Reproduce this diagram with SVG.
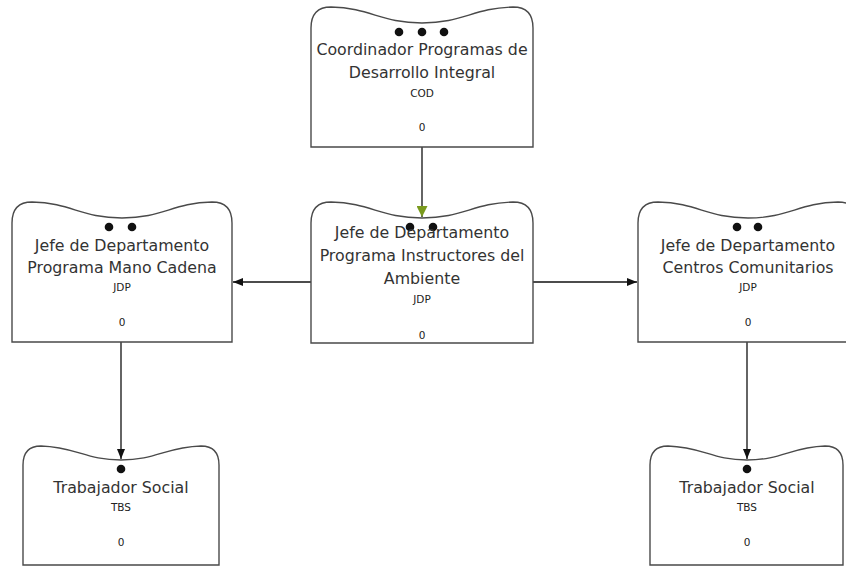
<svg xmlns="http://www.w3.org/2000/svg" width="846" height="568" viewBox="0 0 846 568">
  <style>
    .card { fill: #ffffff; stroke: #4a4a4a; stroke-width: 1.4; }
    .title { font-family: "DejaVu Sans", "Liberation Sans", sans-serif; font-size: 15.8px; fill: #333333; text-anchor: middle; }
    .code { font-family: "DejaVu Sans", "Liberation Sans", sans-serif; font-size: 10.5px; fill: #222222; text-anchor: middle; }
    .dot { fill: #111111; }
    .link { fill: none; stroke: #111111; stroke-width: 1.3; }
  </style>
  <defs>
    <marker id="arrow" markerWidth="10" markerHeight="8" refX="10" refY="4" orient="auto" markerUnits="userSpaceOnUse">
      <path d="M0,0 L10,4 L0,8 Z" fill="#111111"/>
    </marker>
    <marker id="arrowGreen" markerWidth="14" markerHeight="11" refX="11" refY="5.5" orient="auto" markerUnits="userSpaceOnUse">
      <path d="M0,0 L11,5.5 L0,11 Z" fill="#7a9a1e"/>
    </marker>
  </defs>

  <!-- connectors -->
  <g id="connectors">
    <line class="link" x1="422" y1="147" x2="422" y2="217" stroke="#3d4a1c" marker-end="url(#arrowGreen)"/>
    <line class="link" x1="311" y1="282" x2="233" y2="282" marker-end="url(#arrow)"/>
    <line class="link" x1="533" y1="282" x2="637" y2="282" marker-end="url(#arrow)"/>
    <line class="link" x1="121" y1="342" x2="121" y2="459" marker-end="url(#arrow)"/>
    <line class="link" x1="747" y1="342" x2="747" y2="459" marker-end="url(#arrow)"/>
  </g>

  <!-- Coordinador -->
  <g id="node-cod">
    <path class="card" d="M311,147 L311,28 Q311,7 331,7 C371,8 381,23 422,23 C463,23 473,8 513,7 Q533,7 533,28 L533,147 Z"/>
    <circle class="dot" cx="399" cy="32" r="4.3"/>
    <circle class="dot" cx="422" cy="32" r="4.3"/>
    <circle class="dot" cx="444" cy="32" r="4.3"/>
    <text class="title" x="422" y="55">Coordinador Programas de</text>
    <text class="title" x="422" y="78">Desarrollo Integral</text>
    <text class="code" x="422" y="97">COD</text>
    <text class="code" x="422" y="131">0</text>
  </g>

  <!-- Programa Instructores del Ambiente -->
  <g id="node-jdp-ambiente">
    <path class="card" d="M311,343 L311,223 Q311,202 331,202 C371,203 381,218 422,218 C463,218 473,203 513,202 Q533,202 533,223 L533,343 Z"/>
    <circle class="dot" cx="410" cy="227" r="4.3"/>
    <circle class="dot" cx="433" cy="227" r="4.3"/>
    <text class="title" x="422" y="238">Jefe de Departamento</text>
    <text class="title" x="422" y="261">Programa Instructores del</text>
    <text class="title" x="422" y="284">Ambiente</text>
    <text class="code" x="422" y="303">JDP</text>
    <text class="code" x="422" y="339">0</text>
  </g>

  <!-- Programa Mano Cadena -->
  <g id="node-jdp-mano">
    <path class="card" d="M12,342 L12,223 Q12,202 32,202 C72,203 81,218 122,218 C163,218 172,203 212,202 Q232,202 232,223 L232,342 Z"/>
    <circle class="dot" cx="109" cy="227" r="4.3"/>
    <circle class="dot" cx="132" cy="227" r="4.3"/>
    <text class="title" x="122" y="251">Jefe de Departamento</text>
    <text class="title" x="122" y="273">Programa Mano Cadena</text>
    <text class="code" x="122" y="291">JDP</text>
    <text class="code" x="122" y="326">0</text>
  </g>

  <!-- Centros Comunitarios -->
  <g id="node-jdp-centros">
    <path class="card" d="M638,342 L638,223 Q638,202 658,202 C698,203 707,218 748,218 C789,218 798,203 838,202 Q858,202 858,223 L858,342 Z"/>
    <circle class="dot" cx="737" cy="227" r="4.3"/>
    <circle class="dot" cx="758" cy="227" r="4.3"/>
    <text class="title" x="748" y="251">Jefe de Departamento</text>
    <text class="title" x="748" y="273">Centros Comunitarios</text>
    <text class="code" x="748" y="291">JDP</text>
    <text class="code" x="748" y="326">0</text>
  </g>

  <!-- Trabajador Social (left) -->
  <g id="node-tbs-left">
    <path class="card" d="M23,565 L23,465 Q23,446 41,446 C76,447 86,460 121,460 C156,460 166,447 201,446 Q219,446 219,465 L219,565 Z"/>
    <circle class="dot" cx="121" cy="469" r="4.3"/>
    <text class="title" x="121" y="493">Trabajador Social</text>
    <text class="code" x="121" y="511">TBS</text>
    <text class="code" x="121" y="546">0</text>
  </g>

  <!-- Trabajador Social (right) -->
  <g id="node-tbs-right">
    <path class="card" d="M650,565 L650,465 Q650,446 668,446 C703,447 712,460 747,460 C782,460 791,447 825,446 Q843,446 843,465 L843,565 Z"/>
    <circle class="dot" cx="747" cy="469" r="4.3"/>
    <text class="title" x="747" y="493">Trabajador Social</text>
    <text class="code" x="747" y="511">TBS</text>
    <text class="code" x="747" y="546">0</text>
  </g>
</svg>
